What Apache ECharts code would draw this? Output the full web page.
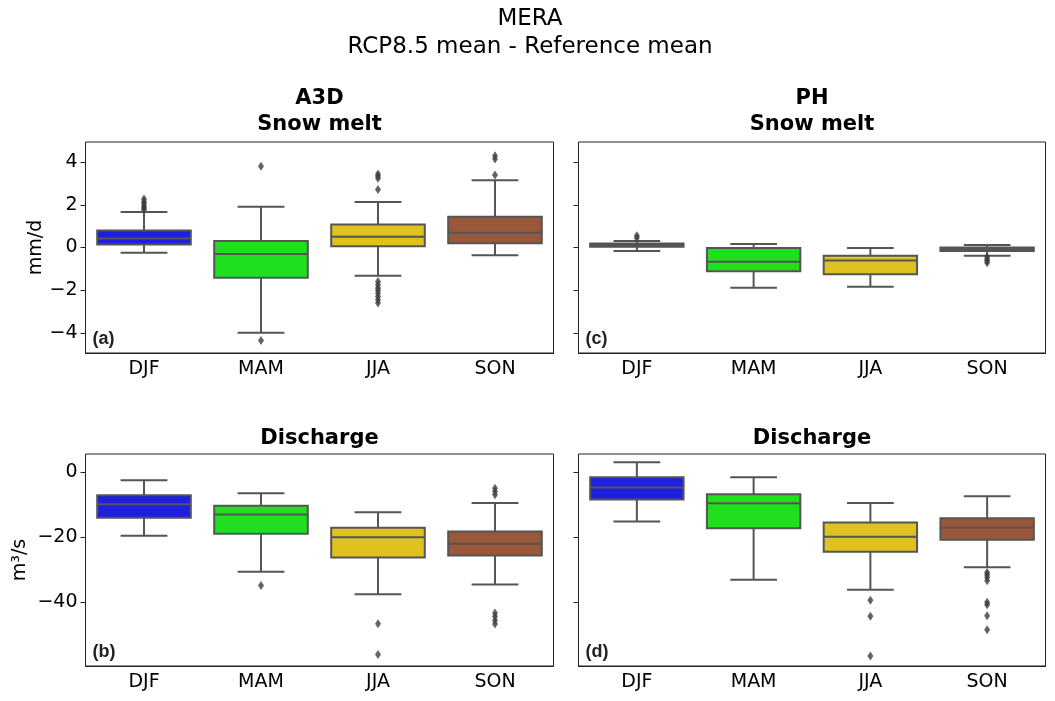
<!DOCTYPE html>
<html>
<head>
<meta charset="utf-8">
<script src="https://cdn.jsdelivr.net/npm/echarts@6/dist/echarts.min.js"></script>
<style>
    html, body { margin: 0; background: #fff; }
    #chart { width: 1055px; height: 701px; }
</style>
</head>
<body>
<div id="chart"></div>
<script>
const seasons = ['DJF', 'MAM', 'JJA', 'SON'];
const seasonColors = ['#1f1fdf', '#1fdf1f', '#dfc11f', '#9a573a'];

// boxes: [min whisker, q1, median, q3, max whisker] per season
const a3dMeltBox = [
    [-0.25, 0.14, 0.42, 0.80, 1.67],
    [-4.00, -1.42, -0.30, 0.31, 1.91],
    [-1.33, 0.06, 0.50, 1.08, 2.14],
    [-0.36, 0.20, 0.69, 1.44, 3.16]
];
const a3dMeltOut = [
    [0, 1.78], [0, 1.85], [0, 1.95], [0, 2.05], [0, 2.15], [0, 2.28],
    [1, 3.81], [1, -4.36],
    [2, 3.45], [2, 3.35], [2, 3.25], [2, 2.72],
    [2, -1.6], [2, -1.75], [2, -1.9], [2, -2.0], [2, -2.15], [2, -2.3], [2, -2.45], [2, -2.6],
    [3, 4.3], [3, 4.15], [3, 3.4]
];
const phMeltBox = [
    [-0.16, 0.03, 0.11, 0.19, 0.31],
    [-1.89, -1.11, -0.67, -0.02, 0.16],
    [-1.84, -1.25, -0.61, -0.39, -0.02],
    [-0.39, -0.17, -0.08, 0.00, 0.12]
];
const phMeltOut = [
    [0, 0.45], [0, 0.55],
    [3, -0.45], [3, -0.55], [3, -0.62], [3, -0.72]
];
const a3dDisBox = [
    [-19.6, -14.05, -9.95, -7.2, -2.56],
    [-30.67, -18.97, -13.1, -10.36, -6.56],
    [-37.6, -26.26, -20.1, -17.13, -12.4],
    [-34.56, -25.64, -22.05, -18.26, -9.54]
];
const a3dDisOut = [
    [1, -34.87],
    [2, -46.6], [2, -56.1],
    [3, -5.0], [3, -6.0], [3, -7.0], [3, -43.3], [3, -44.4], [3, -45.6], [3, -46.7]
];
const phDisBox = [
    [-15.2, -8.5, -4.8, -1.64, 2.97],
    [-33.1, -17.3, -9.64, -6.87, -1.64],
    [-36.2, -24.5, -19.9, -15.5, -9.54],
    [-29.3, -20.8, -17.1, -14.26, -7.5]
];
const phDisOut = [
    [2, -39.4], [2, -44.3], [2, -56.5],
    [3, -30.9], [3, -31.6], [3, -32.4], [3, -33.4], [3, -40.0], [3, -40.8], [3, -44.2], [3, -48.5]
];

const meltTicks = [-4, -2, 0, 2, 4];
const disTicks = [-40, -20, 0];

const EDGE = '#555555';
const FONT = 'DejaVu Sans';

const panels = [
    { box: a3dMeltBox, out: a3dMeltOut, grid: { left: 85.5, top: 142, width: 468, height: 211 }, min: -4.95, max: 4.95, ticks: meltTicks, name: 'mm/d', gap: 40, labels: true, tag: '(a)' },
    { box: phMeltBox, out: phMeltOut, grid: { left: 578.5, top: 142, width: 467, height: 211 }, min: -4.95, max: 4.95, ticks: meltTicks, name: '', labels: false, tag: '(c)' },
    { box: a3dDisBox, out: a3dDisOut, grid: { left: 85.5, top: 454, width: 468, height: 212 }, min: -59.6, max: 5.5, ticks: disTicks, name: 'm³/s', gap: 56, labels: true, tag: '(b)' },
    { box: phDisBox, out: phDisOut, grid: { left: 578.5, top: 454, width: 467, height: 212 }, min: -59.6, max: 5.5, ticks: disTicks, name: '', labels: false, tag: '(d)' }
];

const renderBox = (params, api) => {
    const i = api.value(0);
    const lo = api.coord([i, api.value(1)]);
    const q1 = api.coord([i, api.value(2)]);
    const med = api.coord([i, api.value(3)]);
    const q3 = api.coord([i, api.value(4)]);
    const hi = api.coord([i, api.value(5)]);
    const w = api.size([1, 0])[0] * 0.8;
    const cx = lo[0];
    const line = { stroke: EDGE, lineWidth: 2 };
    return {
        type: 'group',
        children: [
            { type: 'line', shape: { x1: cx, y1: hi[1], x2: cx, y2: q3[1] }, style: line },
            { type: 'line', shape: { x1: cx, y1: q1[1], x2: cx, y2: lo[1] }, style: line },
            { type: 'line', shape: { x1: cx - w / 4, y1: hi[1], x2: cx + w / 4, y2: hi[1] }, style: line },
            { type: 'line', shape: { x1: cx - w / 4, y1: lo[1], x2: cx + w / 4, y2: lo[1] }, style: line },
            { type: 'rect', shape: { x: cx - w / 2, y: q3[1], width: w, height: q1[1] - q3[1] }, style: { fill: seasonColors[i], stroke: EDGE, lineWidth: 2 } },
            { type: 'line', shape: { x1: cx - w / 2, y1: med[1], x2: cx + w / 2, y2: med[1] }, style: line }
        ]
    };
};

const minus = v => String(v).replace('-', '\u2212');

const grids = [], xAxes = [], yAxes = [], series = [];
panels.forEach((p, k) => {
    grids.push(Object.assign({ show: true, borderColor: '#222', borderWidth: 1, backgroundColor: '#fff' }, p.grid));
    xAxes.push({
        type: 'category', gridIndex: k, data: seasons,
        axisLine: { show: true, onZero: false, lineStyle: { color: '#222', width: 1 } },
        axisTick: { alignWithLabel: true, length: 5, lineStyle: { color: '#222' } },
        axisLabel: { fontSize: 19, color: '#000', fontFamily: FONT, margin: 7 },
        splitLine: { show: false }
    });
    yAxes.push({
        type: 'value', gridIndex: k, min: p.min, max: p.max,
        name: p.name, nameLocation: 'middle', nameGap: p.gap || 0, nameRotate: 90,
        nameTextStyle: { fontSize: 19, color: '#000', fontFamily: FONT },
        axisLine: { show: false },
        axisTick: { show: true, length: 5, customValues: p.ticks, lineStyle: { color: '#222' } },
        axisLabel: { show: p.labels, customValues: p.ticks, fontSize: 19, color: '#000', fontFamily: FONT, margin: 8, formatter: minus },
        splitLine: { show: false }
    });
    series.push({
        type: 'custom', xAxisIndex: k, yAxisIndex: k,
        renderItem: renderBox,
        encode: { x: 0, y: [1, 2, 3, 4, 5] },
        data: p.box.map((b, i) => [i].concat(b)),
        z: 2
    });
    series.push({
        type: 'scatter', xAxisIndex: k, yAxisIndex: k,
        symbol: 'diamond', symbolSize: [6, 9],
        itemStyle: { color: '#3d3d3d' },
        data: p.out,
        z: 3
    });
});

const txt = (x, y, text, size, bold) => ({
    type: 'text', x: x, y: y,
    style: {
        text: text, fontSize: size, fontWeight: bold ? 'bold' : 'normal',
        fontFamily: FONT, fill: '#000', align: 'center', verticalAlign: 'middle'
    }
});

const graphics = [
    txt(530, 19, 'MERA', 23),
    txt(530, 47, 'RCP8.5 mean - Reference mean', 23),
    txt(319.5, 99, 'A3D', 21, true),
    txt(319.5, 125, 'Snow melt', 21, true),
    txt(812, 99, 'PH', 21, true),
    txt(812, 125, 'Snow melt', 21, true),
    txt(319.5, 439, 'Discharge', 21, true),
    txt(812, 439, 'Discharge', 21, true)
];
panels.forEach(p => {
    graphics.push({
        type: 'text', x: p.grid.left + 7, y: p.grid.top + p.grid.height - 13.5,
        style: { text: p.tag, fontSize: 18, fontWeight: 'bold', fontFamily: 'Liberation Sans', fill: '#222', verticalAlign: 'middle' }
    });
});

const chart = echarts.init(document.getElementById('chart'));
chart.setOption({
    animation: false,
    backgroundColor: '#fff',
    grid: grids,
    xAxis: xAxes,
    yAxis: yAxes,
    series: series,
    graphic: graphics
});
</script>
</body>
</html>
